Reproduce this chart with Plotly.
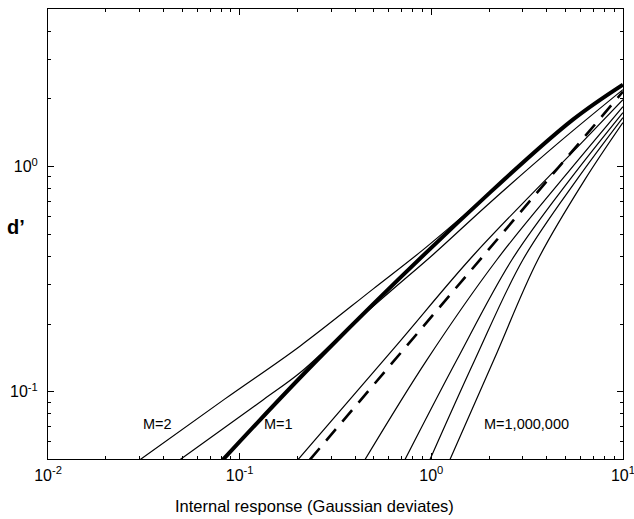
import math
import plotly.graph_objects as go

# ---- data (internal response x, d' y) ----
m1_x = [0.0818, 0.2720, 2.022, 5.480, 10.0]
m1_y = [0.050, 0.1469, 0.7667, 1.618, 2.314]

m2_x = [0.0302, 0.0838, 0.2063, 0.4960, 0.9042, 1.5336, 5.48, 10.0]
m2_y = [0.050, 0.0931, 0.1596, 0.2860, 0.4270, 0.6245, 1.610, 2.29]

mb_x = [0.0488, 0.1323, 0.2063, 0.3762, 0.6081, 1.0194, 2.022, 4.687, 10.0]
mb_y = [0.050, 0.0921, 0.1215, 0.1944, 0.2782, 0.4064, 0.6918, 1.2915, 2.198]

mc_x = [0.2014, 0.6615, 1.668, 5.96, 10.0]
mc_y = [0.050, 0.1618, 0.4064, 1.2524, 1.985]

dash_x = [0.2326, 10.0]
dash_y = [0.050, 2.154]

md_x = [0.4504, 0.9487, 2.1985, 4.800, 10.0]
md_y = [0.050, 0.1388, 0.3861, 0.8754, 1.848]

me_x = [0.7282, 1.360, 2.634, 5.284, 10.0]
me_y = [0.050, 0.1388, 0.3861, 0.8754, 1.738]

mf_x = [0.9833, 1.688, 3.006, 5.748, 10.0]
mf_y = [0.050, 0.1388, 0.3861, 0.8754, 1.651]

mg_x = [1.2504, 2.121, 3.598, 6.328, 10.0]
mg_y = [0.050, 0.1388, 0.3861, 0.8754, 1.569]

labels = ["M=2", "M=1", "M=1,000,000"]
label_x = [0.0371, 0.1603, 3.153]
label_y = [0.0721, 0.0721, 0.0721]

x_ticks = [0.01, 0.1, 1, 10]
x_ticktext = ["10<sup>-2</sup>", "10<sup>-1</sup>", "10<sup>0</sup>", "10<sup>1</sup>"]
y_ticks = [0.1, 1]
y_ticktext = ["10<sup>-1</sup>", "10<sup>0</sup>"]
x_minor = [m * d for d in (0.01, 0.1, 1) for m in range(2, 10)]
y_minor = [0.06, 0.07, 0.08, 0.09] + [m * 0.1 for m in range(2, 10)] + [2, 3, 4, 5]

FONT = "Liberation Sans, Arial, Helvetica, sans-serif"

fig = go.Figure()

thin = dict(color="black", width=1.2, shape="spline", smoothing=1.0)
for xs, ys in [(m2_x, m2_y), (mb_x, mb_y), (mc_x, mc_y), (md_x, md_y),
               (me_x, me_y), (mf_x, mf_y), (mg_x, mg_y)]:
    fig.add_trace(go.Scatter(x=xs, y=ys, mode="lines", line=thin,
                             showlegend=False, hoverinfo="skip"))

fig.add_trace(go.Scatter(x=dash_x, y=dash_y, mode="lines",
                         line=dict(color="black", width=2.6, dash="15px,10px"),
                         showlegend=False, hoverinfo="skip"))
fig.add_trace(go.Scatter(x=m1_x, y=m1_y, mode="lines",
                         line=dict(color="black", width=4, shape="spline", smoothing=1.0),
                         showlegend=False, hoverinfo="skip"))

for t, xx, yy in zip(labels, label_x, label_y):
    fig.add_annotation(x=math.log10(xx), y=math.log10(yy), xref="x", yref="y", text=t,
                       showarrow=False, font=dict(family=FONT, size=14.5, color="black"),
                       xanchor="center", yanchor="middle")

axis_common = dict(showline=True, linecolor="black", linewidth=1, mirror="ticks",
                   ticks="inside", ticklen=6, tickwidth=1, tickcolor="black",
                   showgrid=False, zeroline=False, ticklabeloverflow="allow",
                   automargin=False,
                   tickfont=dict(family=FONT, size=16, color="black"))

fig.update_xaxes(type="log", range=[-2.0003, 1.0003], tickmode="array", tickvals=x_ticks,
                 ticktext=x_ticktext, ticklabelstandoff=2,
                 minor=dict(tickmode="array", tickvals=x_minor, ticks="inside", ticklen=3,
                            tickcolor="black", showgrid=False),
                 **axis_common)
fig.update_yaxes(type="log", range=[-1.298, 0.70], tickmode="array", tickvals=y_ticks,
                 ticktext=y_ticktext, ticklabelstandoff=6,
                 minor=dict(tickmode="array", tickvals=y_minor, ticks="inside", ticklen=3,
                            tickcolor="black", showgrid=False),
                 **axis_common)

fig.add_annotation(x=0.464, y=-0.104, xref="paper", yref="paper",
                   text="Internal response (Gaussian deviates)", showarrow=False,
                   font=dict(family=FONT, size=16.5, color="black"),
                   xanchor="center", yanchor="middle")
fig.add_annotation(x=-0.056, y=0.516, xref="paper", yref="paper",
                   text="<b>d’</b>", showarrow=False,
                   font=dict(family=FONT, size=20, color="black"),
                   xanchor="center", yanchor="middle")

fig.update_layout(width=634, height=519, margin=dict(l=48, r=11, t=9, b=60, autoexpand=False),
                  paper_bgcolor="white", plot_bgcolor="white")

fig.write_html("out.html")
